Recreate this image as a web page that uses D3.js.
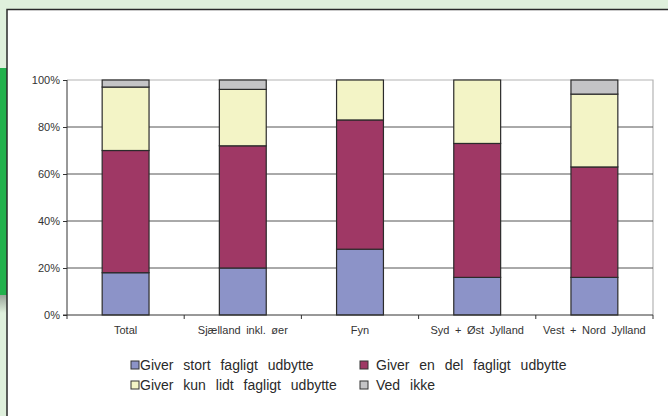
<!DOCTYPE html>
<html>
<head>
<meta charset="utf-8">
<script src="https://cdn.jsdelivr.net/npm/d3@7"></script>
<style>
  body { margin: 0; background: #dff0dc; }
  svg { display: block; font-family: "Liberation Sans", Arial, sans-serif; }
</style>
</head>
<body>
<div id="chart"></div>
<script>
  // data (percent of each region)
  var regions = ["Total", "Sjælland inkl. øer", "Fyn", "Syd + Øst Jylland", "Vest + Nord Jylland"];
  var series = ["Giver stort fagligt udbytte", "Giver en del fagligt udbytte",
                "Giver kun lidt fagligt udbytte", "Ved ikke"];
  var stort = [18, 20, 28, 16, 16];
  var enDel = [52, 52, 55, 57, 47];
  var kunLidt = [27, 24, 17, 27, 31];
  var vedIkke = [3, 4, 0, 0, 6];
  var yTicks = [0, 20, 40, 60, 80, 100];
  var colors = ["#8c93c8", "#9f3865", "#f3f4c6", "#c4c4c6"];

  var W = 668, H = 416;
  var plotL = 67, plotR = 653, plotT = 80, plotB = 315;

  var svg = d3.select("#chart").append("svg")
    .attr("width", W).attr("height", H);

  // page frame
  svg.append("rect").attr("x", 0).attr("y", 0).attr("width", W).attr("height", H).attr("fill", "#dff0dc");
  var grad = svg.append("defs").append("linearGradient").attr("id", "fade")
    .attr("x1", 0).attr("y1", 0).attr("x2", 0).attr("y2", 1);
  grad.append("stop").attr("offset", "0%").attr("stop-color", "#9aa59a");
  grad.append("stop").attr("offset", "100%").attr("stop-color", "#dff0dc");
  svg.append("rect").attr("x", 0).attr("y", 68).attr("width", 8).attr("height", 227).attr("fill", "#22b14c");
  svg.append("rect").attr("x", 0).attr("y", 295).attr("width", 8).attr("height", 18).attr("fill", "url(#fade)");
  svg.append("rect").attr("x", 7).attr("y", 9.5).attr("width", W + 20).attr("height", H + 20)
    .attr("fill", "#fff").attr("stroke", "#2a2a2a").attr("stroke-width", 1.5);

  var rows = regions.map(function(r, i) {
    return { region: r, s0: stort[i], s1: enDel[i], s2: kunLidt[i], s3: vedIkke[i] };
  });
  var stack = d3.stack().keys(["s0", "s1", "s2", "s3"])(rows);

  var x = d3.scaleBand().domain(regions).range([plotL, plotR]).paddingInner(0.6).paddingOuter(0.3);
  var xOuter = d3.scaleBand().domain(regions).range([plotL, plotR]);
  var y = d3.scaleLinear().domain([0, 100]).range([plotB, plotT]);

  // plot border (top and right)
  svg.append("path")
    .attr("d", "M" + plotL + "," + plotT + "H" + plotR + "V" + plotB)
    .attr("fill", "none").attr("stroke", "#b4b4b4").attr("stroke-width", 1.2);

  // gridlines
  svg.append("g").selectAll("line").data(yTicks.slice(1, -1)).enter().append("line")
    .attr("x1", plotL).attr("x2", plotR)
    .attr("y1", function(d) { return y(d); }).attr("y2", function(d) { return y(d); })
    .attr("stroke", "#555").attr("stroke-width", 1);

  // bars
  svg.append("g").selectAll("g").data(stack).enter().append("g")
    .attr("fill", function(d, i) { return colors[i]; })
    .selectAll("rect").data(function(d) { return d.filter(function(p) { return p[1] > p[0]; }); })
    .enter().append("rect")
    .attr("x", function(d) { return x(d.data.region); })
    .attr("width", x.bandwidth())
    .attr("y", function(d) { return y(d[1]); })
    .attr("height", function(d) { return y(d[0]) - y(d[1]); })
    .attr("stroke", "#2b2b2b").attr("stroke-width", 1.2);

  // y axis
  var yAxis = svg.append("g").attr("transform", "translate(" + plotL + ",0)")
    .call(d3.axisLeft(y).tickValues(yTicks).tickSize(4).tickPadding(3)
      .tickFormat(function(d) { return d + "%"; }));
  yAxis.select(".domain").attr("stroke", "#333").attr("d", "M0," + plotT + "V" + plotB);
  yAxis.selectAll(".tick line").attr("stroke", "#333");
  yAxis.selectAll("text").attr("fill", "#333").style("font-size", "11px")
    .style("font-family", "Liberation Sans, Arial, sans-serif");

  // x axis with ticks on band edges
  var xAxis = svg.append("g").attr("transform", "translate(0," + plotB + ")")
    .call(d3.axisBottom(x).tickSize(0).tickPadding(11));
  xAxis.select(".domain").attr("stroke", "#333").attr("d", "M" + (plotL - 4) + ",0H" + plotR);
  xAxis.selectAll("text").attr("fill", "#333").style("font-size", "11px")
    .style("word-spacing", "2.5px")
    .style("font-family", "Liberation Sans, Arial, sans-serif");
  var edges = regions.map(function(r) { return xOuter(r); }).concat([plotR]);
  xAxis.selectAll(".edge").data(edges).enter().append("line").attr("class", "edge")
    .attr("x1", function(d) { return d; }).attr("x2", function(d) { return d; })
    .attr("y1", 0).attr("y2", 4).attr("stroke", "#333");

  // legend
  var legendPos = [[131, 365], [360, 365], [131, 385], [360, 385]];
  var textX = [140, 376, 140, 376];
  var lg = svg.append("g").selectAll("g").data(series).enter().append("g");
  lg.append("rect")
    .attr("x", function(d, i) { return legendPos[i][0]; })
    .attr("y", function(d, i) { return legendPos[i][1] - 4; })
    .attr("width", 8).attr("height", 8)
    .attr("fill", function(d, i) { return colors[i]; })
    .attr("stroke", "#333").attr("stroke-width", 1);
  lg.append("text")
    .attr("x", function(d, i) { return textX[i]; })
    .attr("y", function(d, i) { return legendPos[i][1] + 5; })
    .attr("fill", "#2a2a2a").style("font-size", "14px").style("word-spacing", "6px")
    .text(function(d) { return d; });
</script>
</body>
</html>
